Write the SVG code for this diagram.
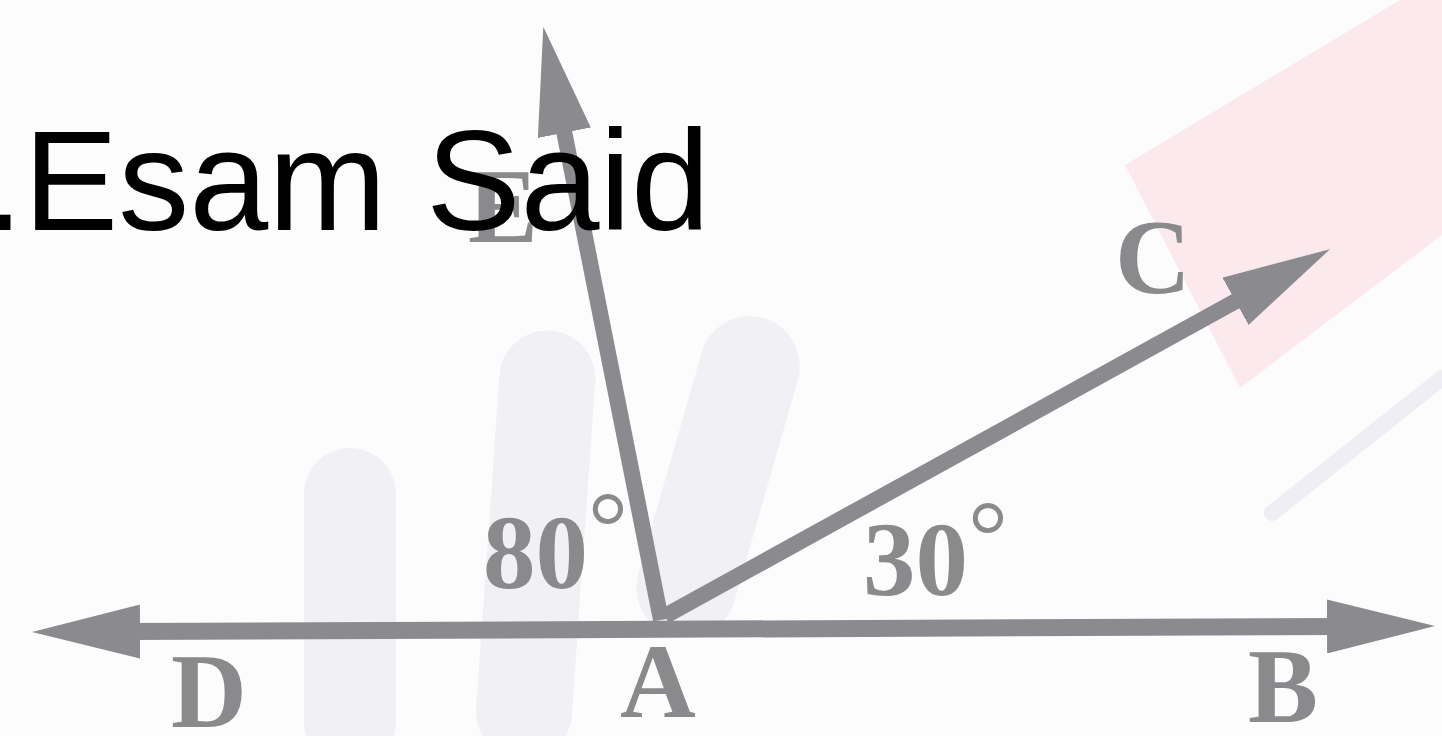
<svg xmlns="http://www.w3.org/2000/svg" width="1442" height="736" viewBox="0 0 1442 736">
  <style>
    .ray { stroke: #8b8b8f; fill: none; }
    .lbl { font-family: "Liberation Serif", "Times New Roman", serif; font-size: 105px; font-weight: bold; fill: #8a8a8c; }
    .deg { font-weight: normal; font-size: 100px; }
    .title { font-family: "Liberation Sans", Arial, sans-serif; font-size: 142px; fill: #000000; }
    .wm { fill: #f1f1f5; }
  </style>
  <defs>
    <marker id="head" markerUnits="userSpaceOnUse" markerWidth="108" markerHeight="54" viewBox="0 0 108 54" refX="12" refY="27" orient="auto-start-reverse">
      <path d="M0,0 L108,27 L0,54 Z" fill="#8b8b8f"/>
    </marker>
  </defs>

  <g id="background">
    <rect x="0" y="0" width="1442" height="736" fill="#fcfcfc"/>
    <polygon points="1125,165 1400,0 1442,0 1442,235 1240,388" fill="#fbe9ed"/>
    <line x1="1272" y1="513" x2="1442" y2="378" stroke="#efeef5" stroke-width="16" stroke-linecap="round"/>
    <rect class="wm" x="304" y="448" width="92" height="320" rx="46"/>
    <rect class="wm" x="488" y="330" width="96" height="430" rx="48" transform="rotate(4 536 540)"/>
    <rect class="wm" x="670" y="312" width="100" height="330" rx="50" transform="rotate(16 720 470)"/>
  </g>

  <g id="connectors">
    <line id="line-DB" class="ray" x1="128" y1="631.6" x2="1339" y2="626.4" stroke-width="17" marker-start="url(#head)" marker-end="url(#head)"/>
    <line id="ray-AE" class="ray" x1="661" y1="620" x2="562" y2="121" stroke-width="16" marker-end="url(#head)"/>
    <line id="ray-AC" class="ray" x1="665" y1="616" x2="1246" y2="295.5" stroke-width="16" marker-end="url(#head)"/>
  </g>

  <g id="node-E"><text class="lbl" x="468" y="242">E</text></g>
  <g id="node-C"><text class="lbl" x="1115" y="293" font-weight="normal">C</text></g>
  <g id="node-D"><text class="lbl" x="171" y="727">D</text></g>
  <g id="node-A"><text class="lbl" x="620" y="717">A</text></g>
  <g id="node-B"><text class="lbl" x="1248" y="722">B</text></g>
  <g id="angle-80"><text class="lbl" x="483" y="588">80<tspan class="deg" dy="-28">°</tspan></text></g>
  <g id="angle-30"><text class="lbl" x="863" y="595">30<tspan class="deg" dy="-26">°</tspan></text></g>

  <g id="title"><text class="title" x="-16" y="230">.Esam Said</text></g>
</svg>
